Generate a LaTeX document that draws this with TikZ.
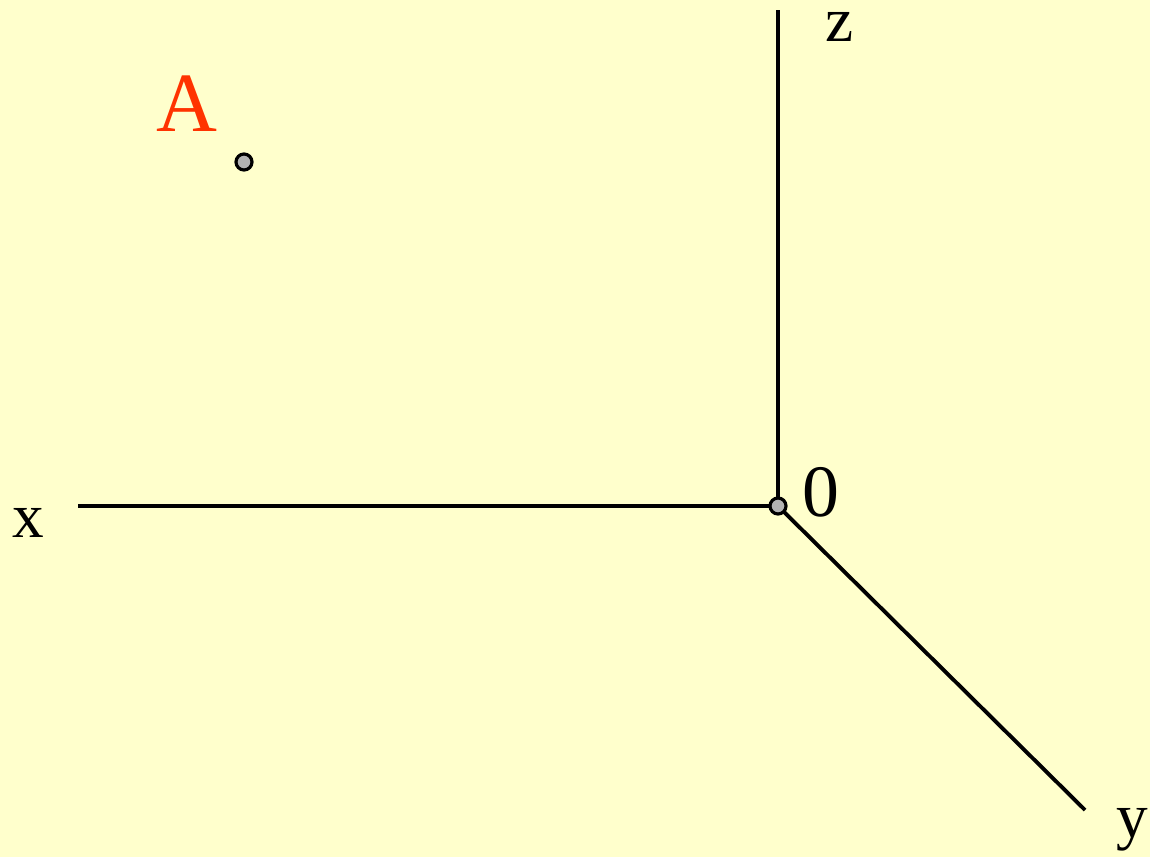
\documentclass[tikz,border=0pt]{standalone}
\usepackage{fontspec}
\setmainfont{Liberation Serif}
\definecolor{paper}{HTML}{FFFFCC}
\definecolor{pointred}{HTML}{FF3300}
\definecolor{dotgray}{HTML}{B3B3B3}
\tikzset{
  axis/.style={line width=1.1pt},
  axlabel/.style={anchor=base,inner sep=0pt,font=\fontsize{18}{18}\selectfont},
  dot/.style={circle,draw,line width=0.9pt,fill=dotgray,inner sep=0pt,minimum size=0.16cm}
}
\begin{document}
\begin{tikzpicture}
  % paper
  \fill[paper] (0,0) rectangle (11.5,8.57);
  \useasboundingbox (0,0) rectangle (11.5,8.57);
  % axes from the origin
  \coordinate (O) at (7.78,3.51);
  \coordinate (xend) at (0.78,3.51);
  \coordinate (yend) at (10.85,0.47);
  \coordinate (zend) at (7.78,8.47);
  \draw[axis] (O) -- (zend);
  \draw[axis] (O) -- (xend);
  \draw[axis] (O) -- (yend);
  % axis labels
  \node[axlabel] (xlab) at (0.28,3.20) {x};
  \node[axlabel] (ylab) at (11.32,0.20) {y};
  \node[axlabel] (zlab) at (8.395,8.15) {z};
  \node[anchor=base,inner sep=0pt,font=\fontsize{21}{21}\selectfont] (olab) at (8.21,3.41) {0};
  % origin and point A
  \node[dot] (origin) at (O) {};
  \node[dot] (ptA) at (2.44,6.95) {};
  \node[anchor=base,inner sep=0pt,text=pointred,font=\fontsize{24}{24}\selectfont] (alab) at (1.87,7.25) {A};
\end{tikzpicture}
\end{document}
